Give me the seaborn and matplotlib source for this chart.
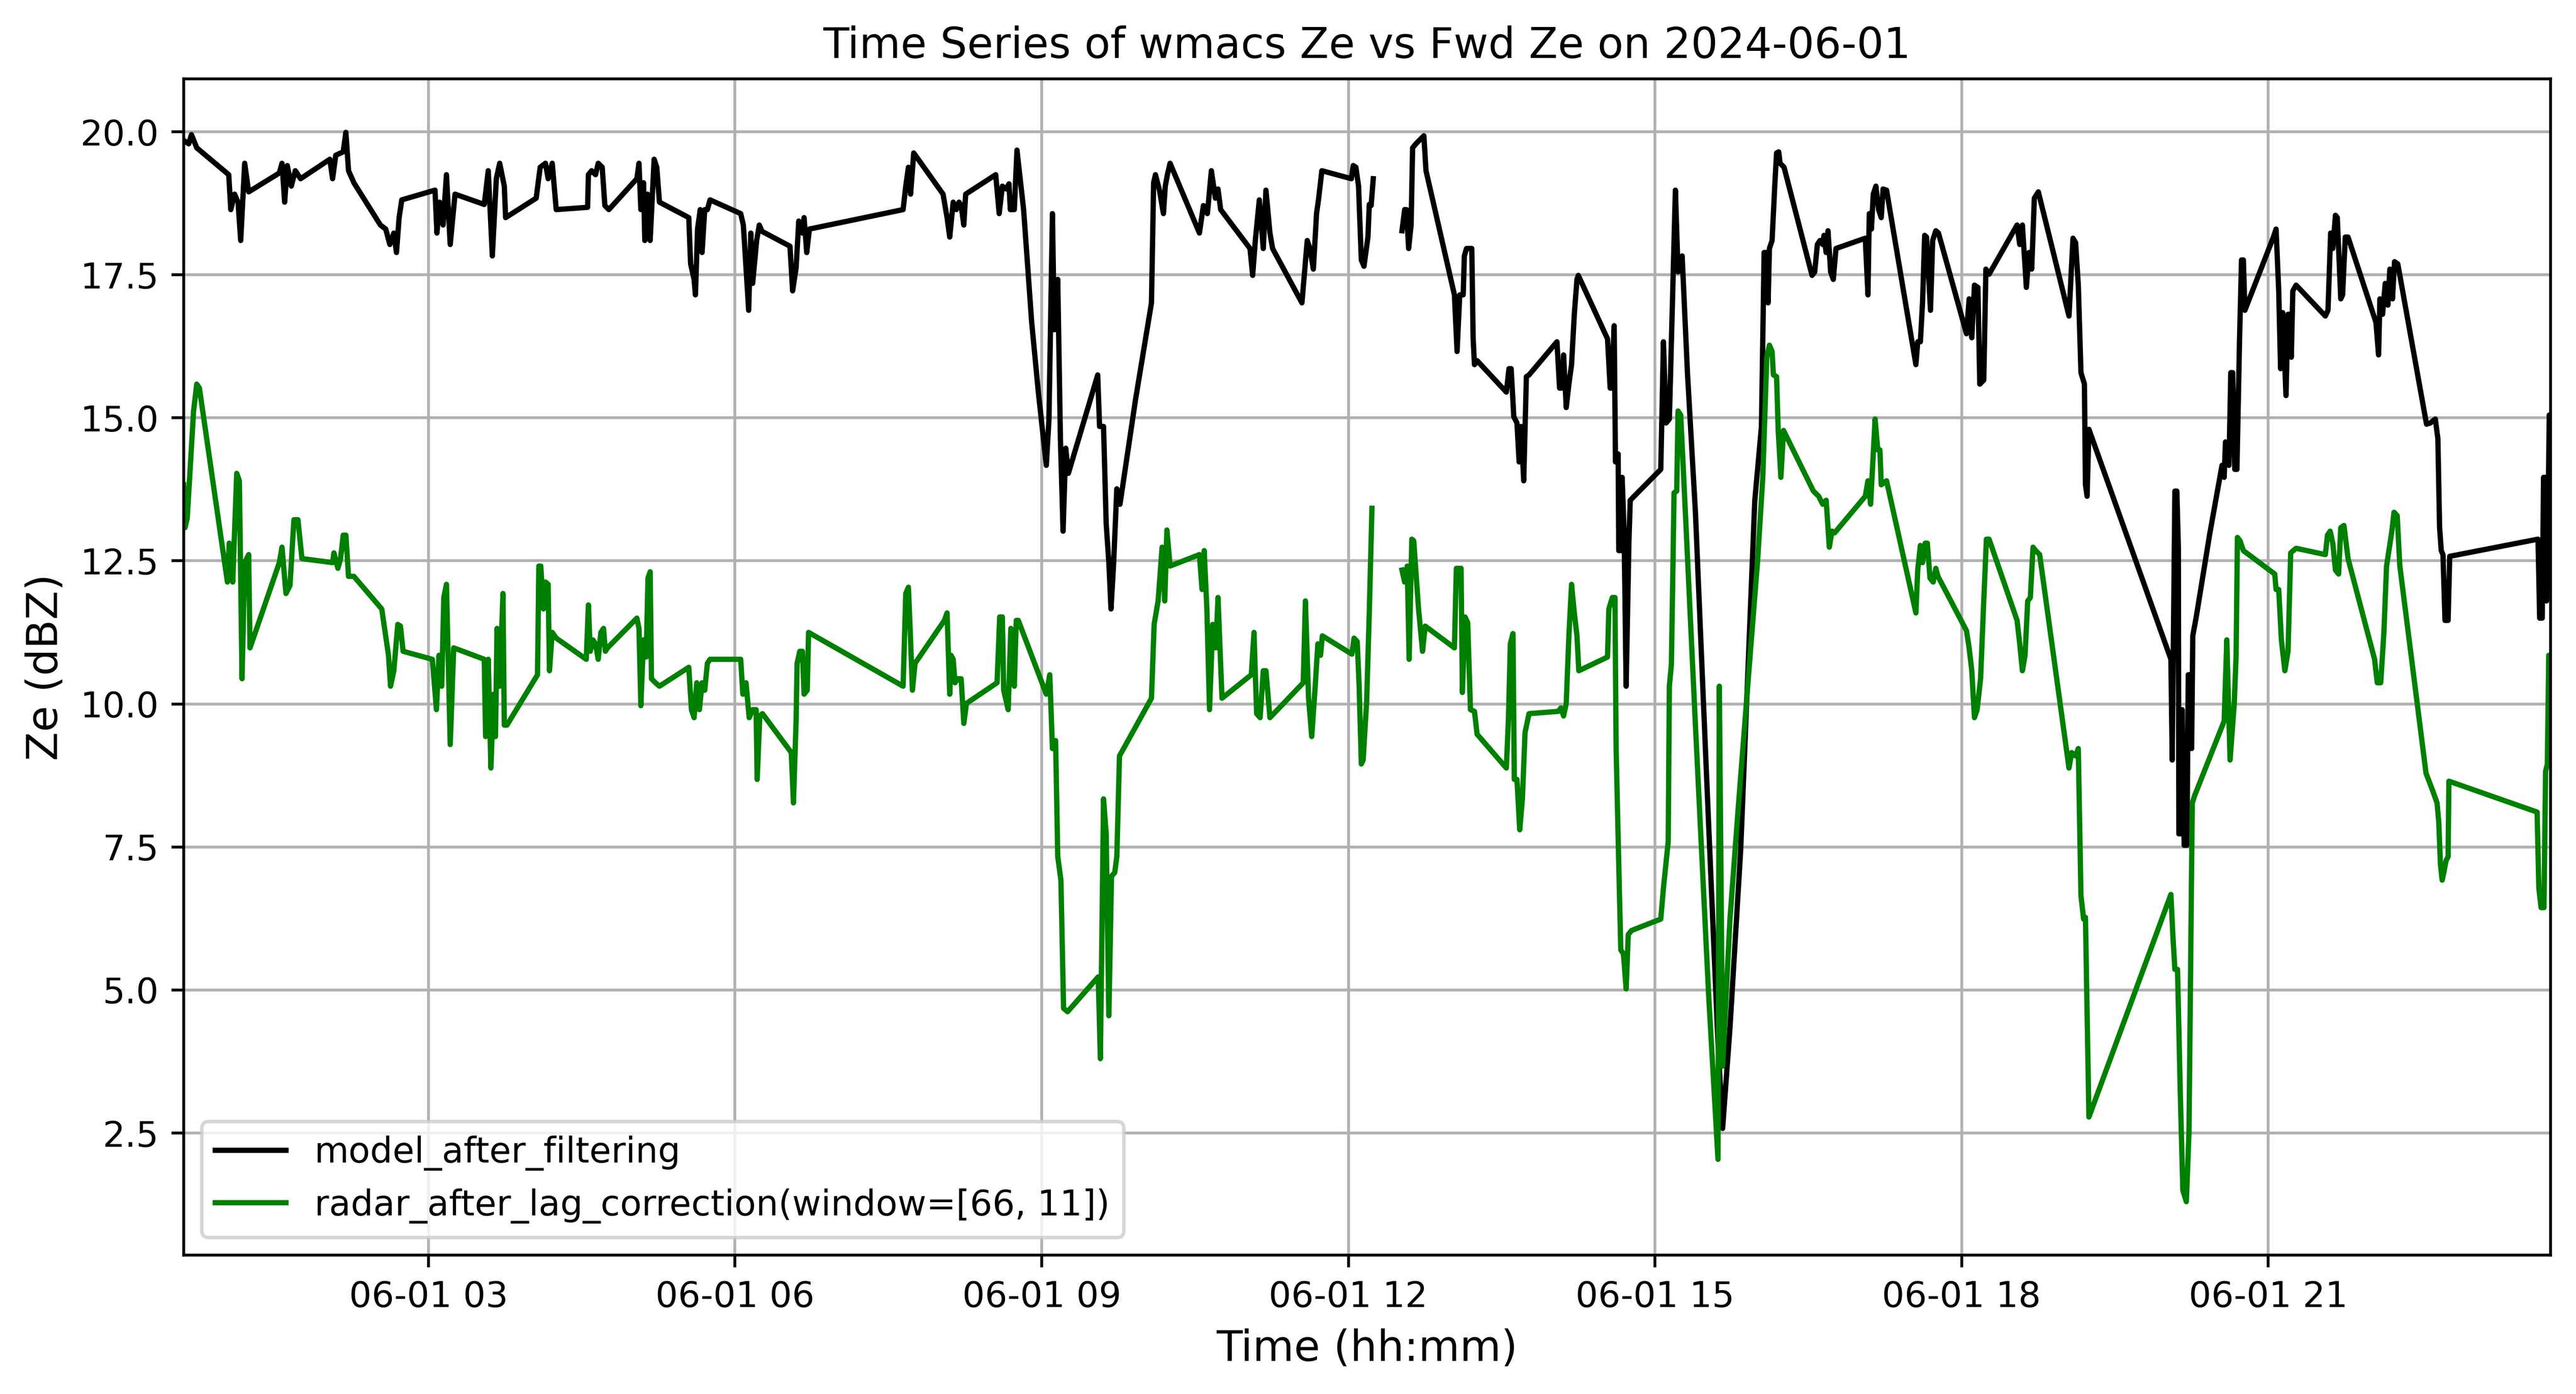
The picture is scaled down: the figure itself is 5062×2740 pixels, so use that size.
import numpy as np
import pandas as pd
import matplotlib
matplotlib.use("Agg")
import matplotlib.pyplot as plt
import matplotlib.dates as mdates
import seaborn as sns

# hours after 2024-06-01 00:00 (dBZ)
model_hours = [
    0.605, 0.655, 0.681, 0.733, 1.046, 1.066, 1.103, 1.137, 1.163, 1.202, 1.241,
    1.541, 1.567, 1.593, 1.619, 1.658, 1.697, 1.749, 2.035, 2.062, 2.093, 2.166,
    2.192, 2.218, 2.270, 2.530, 2.582, 2.622, 2.661, 2.687, 2.713, 2.739, 3.064,
    3.083, 3.109, 3.143, 3.176, 3.213, 3.260, 3.546, 3.585, 3.625, 3.664, 3.697,
    3.742, 3.755, 4.054, 4.093, 4.145, 4.171, 4.211, 4.250, 4.557, 4.565, 4.596,
    4.635, 4.661, 4.700, 4.726, 4.765, 5.039, 5.060, 5.078, 5.104, 5.117, 5.143,
    5.169, 5.208, 5.234, 5.260, 5.547, 5.565, 5.599, 5.612, 5.633, 5.659, 5.677,
    5.703, 5.729, 5.755, 6.055, 6.081, 6.133, 6.154, 6.172, 6.211, 6.237, 6.263,
    6.537, 6.563, 6.597, 6.623, 6.659, 6.675, 6.701, 6.727, 7.644, 7.670, 7.696,
    7.717, 7.748, 8.035, 8.074, 8.100, 8.134, 8.165, 8.191, 8.212, 8.238, 8.256,
    8.550, 8.584, 8.615, 8.654, 8.680, 8.693, 8.732, 8.758, 8.823, 8.902, 8.967,
    9.045, 9.071, 9.105, 9.123, 9.157, 9.183, 9.209, 9.235, 9.261, 9.548, 9.566,
    9.605, 9.631, 9.657, 9.678, 9.704, 9.735, 9.766, 9.918, 10.074, 10.095,
    10.113, 10.152, 10.191, 10.209, 10.230, 10.256, 10.543, 10.582, 10.621,
    10.660, 10.699, 10.725, 10.751, 11.038, 11.064, 11.090, 11.129, 11.168,
    11.194, 11.233, 11.259, 11.546, 11.572, 11.598, 11.624, 11.658, 11.689,
    11.710, 11.741, 12.030, 12.048, 12.074, 12.100, 12.127, 12.153, 12.192,
    12.205, 12.223, 12.244, 12.380, 12.525, 12.551, 12.569, 12.590, 12.614,
    12.629, 12.661, 12.739, 12.760, 13.038, 13.064, 13.090, 13.124, 13.135,
    13.156, 13.208, 13.221, 13.234, 13.260, 13.546, 13.572, 13.593, 13.619,
    13.650, 13.671, 13.690, 13.716, 13.742, 13.768, 14.041, 14.067, 14.093,
    14.106, 14.132, 14.158, 14.184, 14.211, 14.237, 14.250, 14.536, 14.562,
    14.575, 14.601, 14.614, 14.640, 14.646, 14.666, 14.679, 14.698, 14.718,
    14.745, 14.758, 15.057, 15.083, 15.109, 15.141, 15.161, 15.200, 15.226,
    15.266, 15.318, 15.396, 15.500, 15.617, 15.662, 15.734, 15.839, 15.977,
    16.042, 16.068, 16.094, 16.107, 16.120, 16.146, 16.172, 16.190, 16.211,
    16.224, 16.263, 16.537, 16.563, 16.589, 16.615, 16.641, 16.654, 16.675,
    16.693, 16.719, 16.745, 16.771, 17.058, 17.084, 17.097, 17.118, 17.136,
    17.162, 17.188, 17.214, 17.232, 17.266, 17.553, 17.571, 17.597, 17.618,
    17.639, 17.657, 17.696, 17.717, 17.748, 17.774, 18.048, 18.074, 18.100,
    18.126, 18.160, 18.178, 18.217, 18.238, 18.269, 18.543, 18.569, 18.595,
    18.634, 18.660, 18.686, 18.712, 18.751, 19.051, 19.090, 19.116, 19.142,
    19.168, 19.202, 19.212, 19.228, 19.246, 20.048, 20.061, 20.087, 20.106,
    20.121, 20.126, 20.147, 20.158, 20.178, 20.205, 20.218, 20.231, 20.251,
    20.262, 20.296, 20.426, 20.548, 20.569, 20.582, 20.616, 20.634, 20.653,
    20.673, 20.694, 20.720, 20.739, 20.757, 20.772, 21.051, 21.077, 21.103,
    21.121, 21.142, 21.174, 21.194, 21.207, 21.226, 21.241, 21.273, 21.559,
    21.585, 21.611, 21.632, 21.658, 21.676, 21.710, 21.728, 21.754, 21.781,
    22.054, 22.080, 22.093, 22.119, 22.145, 22.171, 22.190, 22.216, 22.236,
    22.268, 22.549, 22.586, 22.635, 22.660, 22.677, 22.693, 22.710, 22.730,
    22.760, 22.776, 23.640, 23.656, 23.681, 23.694, 23.714, 23.723, 23.736,
    23.750, 23.762,
]
model_ze = [
    19.85, 19.79, 19.95, 19.72, 19.25, 18.64, 18.91, 18.77, 18.10, 19.45, 18.95,
    19.28, 19.45, 18.77, 19.41, 19.05, 19.32, 19.18, 19.52, 19.18, 19.59, 19.65,
    19.99, 19.32, 19.11, 18.37, 18.30, 18.03, 18.23, 17.89, 18.50, 18.81, 18.98,
    18.23, 18.77, 18.37, 19.25, 18.03, 18.91, 18.73, 19.32, 17.83, 19.18, 19.45,
    19.05, 18.50, 18.84, 19.38, 19.45, 19.18, 19.45, 18.64, 18.68, 19.25, 19.32,
    19.25, 19.45, 19.38, 18.71, 18.64, 19.18, 19.45, 18.64, 19.11, 18.10, 18.91,
    18.10, 19.52, 19.38, 18.77, 18.50, 17.69, 17.42, 17.15, 18.30, 18.64, 17.89,
    18.64, 18.64, 18.81, 18.57, 18.37, 16.88, 18.23, 17.35, 18.10, 18.37, 18.26,
    18.00, 17.22, 17.62, 18.44, 18.23, 18.50, 17.89, 18.30, 18.64, 19.05, 19.38,
    18.91, 19.63, 18.91, 18.50, 18.16, 18.77, 18.64, 18.77, 18.71, 18.37, 18.91,
    19.25, 18.57, 19.05, 19.00, 19.09, 18.64, 18.64, 19.68, 18.64, 16.67, 15.45,
    14.17, 14.98, 18.57, 16.54, 17.42, 14.64, 13.02, 14.47, 14.03, 15.75, 14.85,
    14.85, 13.15, 12.47, 11.66, 12.47, 13.76, 13.49, 15.32, 17.01, 19.11,
    19.25, 18.98, 18.57, 19.05, 19.25, 19.45, 18.23, 18.71, 18.57,
    19.32, 18.84, 19.00, 18.64, 17.96, 17.49, 18.10, 18.81, 17.96,
    18.98, 18.23, 17.96, 17.01, 17.55, 18.10, 17.96, 17.60, 18.57,
    18.84, 19.32, 19.18, 19.41, 19.38, 19.05, 17.76, 17.65, 18.16,
    18.73, 18.71, 19.18, np.nan, 18.27, 18.64, 18.64, 17.96, 18.37,
    19.72, 19.79, 19.93, 19.32, 17.15, 16.16, 17.15, 17.15, 17.83,
    17.96, 17.96, 16.40, 15.93, 16.00, 15.45, 15.86, 15.86, 15.02,
    14.91, 14.23, 14.85, 13.90, 15.72, 15.75, 16.33, 15.52, 15.52,
    16.10, 15.18, 15.59, 15.93, 16.81, 17.42, 17.49, 16.38, 15.52,
    15.52, 16.61, 14.23, 14.37, 12.68, 12.68, 13.96, 13.02, 10.31,
    12.81, 13.56, 14.10, 16.33, 14.91, 14.98, 16.33, 18.98, 17.55,
    17.83, 15.79, 13.35, 8.95, 4.07, 2.58, 4.34, 7.46, 13.56,
    14.85, 17.89, 17.89, 17.01, 17.96, 18.10, 19.05, 19.63, 19.65,
    19.45, 19.38, 17.49, 17.55, 18.03, 18.10, 18.03, 18.19, 17.89,
    18.27, 17.55, 17.42, 17.96, 18.14, 17.15, 18.57, 18.30, 18.91,
    19.05, 18.64, 18.50, 19.00, 18.98, 15.93, 16.33, 16.33, 17.01,
    18.19, 18.16, 16.88, 18.10, 18.27, 18.23, 16.47, 17.08, 16.40,
    17.32, 17.28, 15.59, 15.66, 17.60, 17.51, 18.37, 18.03, 18.37,
    17.28, 17.89, 17.60, 18.84, 18.95, 16.78, 18.14, 18.06, 17.32,
    15.79, 15.59, 13.83, 13.63, 14.80, 10.78, 9.02, 13.72, 13.72,
    12.74, 7.73, 7.73, 9.90, 7.53, 7.53, 10.51, 10.51, 9.22,
    11.19, 11.52, 12.95, 14.17, 13.96, 14.58, 14.17, 15.79, 15.79,
    14.10, 14.10, 16.40, 17.76, 17.76, 16.88, 18.16, 18.30, 17.22,
    15.86, 16.84, 15.39, 16.81, 16.81, 16.06, 17.22, 17.32, 16.78,
    16.88, 18.23, 17.96, 18.54, 18.50, 17.08, 17.15, 18.16, 18.16,
    16.67, 16.10, 17.08, 16.81, 17.35, 16.97, 17.60, 17.08, 17.73,
    17.69, 14.89, 14.91, 14.98, 14.64, 13.08, 12.68, 12.61, 11.46,
    11.46, 12.58, 12.88, 11.50, 11.50, 13.96, 13.96, 11.80, 12.85,
    15.05, 15.05,
]

radar_hours = [
    0.605, 0.618, 0.640, 0.668, 0.702, 0.733, 0.759, 1.033, 1.051, 1.085, 1.124,
    1.150, 1.176, 1.202, 1.241, 1.254, 1.541, 1.567, 1.606, 1.645, 1.684, 1.723,
    1.762, 2.062, 2.075, 2.114, 2.140, 2.166, 2.192, 2.218, 2.270, 2.543, 2.609,
    2.629, 2.661, 2.700, 2.726, 2.752, 3.038, 3.078, 3.103, 3.130, 3.150, 3.176,
    3.213, 3.247, 3.546, 3.559, 3.585, 3.611, 3.637, 3.656, 3.671, 3.697, 3.729,
    3.742, 3.768, 4.067, 4.080, 4.099, 4.125, 4.145, 4.171, 4.184, 4.211, 4.250,
    4.544, 4.565, 4.583, 4.609, 4.635, 4.661, 4.687, 4.713, 4.731, 4.752, 5.039,
    5.060, 5.078, 5.104, 5.130, 5.148, 5.169, 5.182, 5.221, 5.260, 5.547, 5.573,
    5.599, 5.625, 5.651, 5.677, 5.703, 5.729, 5.755, 6.055, 6.076, 6.107, 6.138,
    6.172, 6.206, 6.216, 6.242, 6.268, 6.550, 6.571, 6.597, 6.607, 6.633, 6.659,
    6.675, 6.706, 6.719, 7.644, 7.670, 7.696, 7.717, 7.735, 7.761, 8.048, 8.074,
    8.100, 8.113, 8.134, 8.152, 8.178, 8.212, 8.238, 8.264, 8.563, 8.589, 8.615,
    8.628, 8.672, 8.698, 8.732, 8.751, 8.771, 9.045, 9.079, 9.105, 9.136, 9.157,
    9.188, 9.214, 9.253, 9.553, 9.574, 9.605, 9.631, 9.657, 9.683, 9.714, 9.735,
    9.761, 10.074, 10.100, 10.139, 10.178, 10.204, 10.225, 10.256, 10.543,
    10.569, 10.590, 10.616, 10.642, 10.673, 10.704, 10.725, 10.764, 11.051,
    11.077, 11.103, 11.137, 11.168, 11.194, 11.233, 11.559, 11.580, 11.611,
    11.642, 11.676, 11.702, 11.728, 11.746, 12.035, 12.056, 12.087, 12.106,
    12.127, 12.145, 12.179, 12.205, 12.231, 12.380, 12.525, 12.551, 12.577,
    12.595, 12.621, 12.640, 12.687, 12.726, 12.752, 13.038, 13.057, 13.103,
    13.116, 13.142, 13.168, 13.195, 13.234, 13.260, 13.546, 13.567, 13.585,
    13.611, 13.624, 13.650, 13.677, 13.703, 13.729, 13.768, 14.054, 14.080,
    14.106, 14.132, 14.158, 14.184, 14.211, 14.237, 14.255, 14.536, 14.549,
    14.583, 14.609, 14.620, 14.653, 14.666, 14.692, 14.718, 14.739, 14.771,
    15.057, 15.083, 15.130, 15.141, 15.161, 15.187, 15.213, 15.226, 15.252,
    15.292, 15.396, 15.526, 15.617, 15.630, 15.662, 15.734, 15.813, 15.925,
    16.003, 16.055, 16.094, 16.120, 16.146, 16.159, 16.190, 16.206, 16.232,
    16.258, 16.550, 16.602, 16.641, 16.675, 16.706, 16.732, 16.758, 17.058,
    17.084, 17.110, 17.136, 17.154, 17.180, 17.201, 17.214, 17.266, 17.553,
    17.571, 17.597, 17.618, 17.644, 17.665, 17.691, 17.722, 17.748, 17.769,
    18.048, 18.074, 18.100, 18.126, 18.152, 18.186, 18.217, 18.243, 18.269,
    18.543, 18.569, 18.595, 18.621, 18.647, 18.673, 18.699, 18.725, 18.764,
    19.051, 19.077, 19.116, 19.142, 19.168, 19.194, 19.212, 19.246, 20.048,
    20.069, 20.087, 20.113, 20.139, 20.165, 20.199, 20.225, 20.257, 20.283,
    20.569, 20.595, 20.627, 20.668, 20.686, 20.699, 20.725, 20.757, 21.064,
    21.077, 21.103, 21.129, 21.163, 21.194, 21.220, 21.246, 21.273, 21.559,
    21.580, 21.606, 21.632, 21.658, 21.689, 21.710, 21.741, 21.781, 22.041,
    22.067, 22.101, 22.132, 22.158, 22.210, 22.231, 22.262, 22.288, 22.544,
    22.610, 22.652, 22.669, 22.685, 22.702, 22.718, 22.740, 22.760, 22.768,
    23.631, 23.648, 23.670, 23.698, 23.714, 23.731, 23.745, 23.762,
]
radar_ze = [
    13.83, 13.08, 13.25, 14.10, 15.12, 15.59, 15.52, 12.13, 12.81, 12.13, 14.03,
    13.90, 10.44, 12.47, 12.61, 10.98, 12.47, 12.74, 11.93, 12.07, 13.22, 13.22,
    12.54, 12.47, 12.64, 12.37, 12.54, 12.95, 12.95, 12.23, 12.23, 11.66, 10.85,
    10.31, 10.58, 11.39, 11.36, 10.92, 10.78, 9.90, 10.85, 10.31, 11.86, 12.09,
    9.29, 10.98, 10.78, 9.43, 10.78, 8.88, 10.17, 9.43, 11.32, 10.31, 11.93,
    9.63, 9.63, 10.51, 12.41, 12.41, 11.66, 12.13, 12.09, 10.58, 11.25, 11.15,
    10.78, 11.73, 10.92, 11.12, 11.05, 10.78, 11.25, 11.32, 10.92, 10.98, 11.50,
    11.32, 9.97, 11.12, 10.82, 12.20, 12.31, 10.44, 10.37, 10.31, 10.64, 9.90,
    9.76, 10.37, 9.90, 10.37, 10.24, 10.71, 10.78, 10.78, 10.17, 10.37, 9.76,
    9.90, 9.90, 8.68, 9.79, 9.83, 9.15, 8.27, 9.70, 10.71, 10.92, 10.92,
    10.17, 10.24, 11.25, 10.31, 11.93, 12.04, 11.12, 10.24, 10.71, 11.46, 11.59,
    10.17, 10.85, 10.78, 10.37, 10.44, 10.44, 9.66, 10.01, 10.37, 11.52, 11.52,
    10.24, 9.90, 11.32, 10.31, 11.46, 11.46, 10.17, 10.51, 9.22, 9.36, 7.33,
    6.92, 4.68, 4.62, 5.23, 3.80, 8.34, 7.73, 4.55, 6.99, 7.05, 7.33,
    9.09, 10.10, 11.39, 11.80, 12.74, 11.80, 13.04, 12.41, 12.61,
    12.00, 12.68, 11.66, 9.90, 11.39, 10.98, 11.86, 10.10, 10.51,
    11.25, 9.83, 9.76, 10.58, 10.58, 9.76, 10.37, 11.80, 10.10,
    9.43, 10.31, 11.05, 10.85, 11.19, 10.87, 11.15, 11.09, 10.31,
    8.95, 9.02, 10.03, 11.59, 13.42, np.nan, 12.34, 12.13, 12.41,
    10.78, 12.88, 12.85, 11.66, 10.92, 11.36, 10.98, 12.37, 12.37,
    10.20, 11.52, 11.42, 9.90, 9.87, 9.47, 8.88, 9.76, 11.05,
    11.23, 8.68, 8.68, 7.80, 8.34, 9.50, 9.83, 9.87, 9.93,
    9.79, 10.01, 11.19, 12.09, 11.59, 11.19, 10.58, 10.82, 11.66,
    11.86, 11.86, 9.22, 6.65, 5.70, 5.63, 5.02, 5.97, 6.04,
    6.24, 6.78, 7.60, 10.31, 10.69, 13.69, 13.72, 15.12, 15.05,
    13.56, 9.63, 4.89, 2.04, 10.31, 3.67, 6.24, 8.14, 10.71,
    12.47, 13.96, 16.06, 16.27, 16.16, 15.75, 15.72, 14.78, 13.96,
    14.78, 13.72, 13.63, 13.49, 13.56, 12.74, 13.02, 12.99, 13.63,
    13.90, 13.49, 14.37, 14.98, 14.44, 14.44, 13.83, 13.90, 11.59,
    12.34, 12.77, 12.47, 12.81, 12.81, 12.20, 12.13, 12.37, 12.23,
    11.28, 10.98, 10.58, 9.76, 9.90, 10.44, 11.80, 12.88, 12.88,
    11.46, 11.05, 10.58, 10.85, 11.80, 11.86, 12.74, 12.68, 12.61,
    8.88, 9.15, 9.09, 9.22, 6.65, 6.24, 6.27, 2.78, 6.67,
    5.90, 5.36, 5.36, 3.26, 1.50, 1.30, 2.51, 8.27, 8.41,
    9.70, 11.12, 9.02, 10.01, 10.85, 12.91, 12.85, 12.68, 12.27,
    12.00, 12.00, 11.12, 10.58, 10.92, 12.64, 12.68, 12.72, 12.61,
    12.95, 13.02, 12.81, 12.34, 12.27, 13.08, 13.12, 12.54, 10.78,
    10.37, 10.37, 11.25, 12.41, 13.02, 13.35, 13.29, 12.41, 8.79,
    8.48, 8.27, 7.93, 7.20, 6.92, 7.05, 7.26, 7.33, 8.65,
    8.11, 6.78, 6.44, 6.44, 8.82, 8.95, 10.85, 10.85,
]

day = pd.Timestamp("2024-06-01")


def make_df(hours, values):
    df = pd.DataFrame({"hours": hours, "ze": values})
    df["time"] = day + pd.to_timedelta(df["hours"], unit="h")
    # a NaN marks a data gap -> separate line pieces
    df["piece"] = df["ze"].isna().cumsum()
    return df.dropna()


df_model = make_df(model_hours, model_ze)
df_radar = make_df(radar_hours, radar_ze)

fig = plt.figure(figsize=(5062 / 500, 2740 / 500), dpi=500)
ax = fig.add_axes([0.0713, 0.0996, 0.9901 - 0.0713, 0.9434 - 0.0996])

series = [
    (df_model, "black", "model_after_filtering"),
    (df_radar, "green", "radar_after_lag_correction(window=[66, 11])"),
]
for df, color, label in series:
    for i, (_, piece) in enumerate(df.groupby("piece")):
        sns.lineplot(data=piece, x="time", y="ze", ax=ax, color=color,
                     estimator=None, sort=False, linewidth=1.5,
                     label=label if i == 0 else None, legend=False)

ax.set_xlim(df_model["time"].min(), df_model["time"].max())
ax.xaxis.set_major_locator(mdates.HourLocator(byhour=range(0, 24, 3)))
ax.xaxis.set_major_formatter(mdates.DateFormatter("%m-%d %H"))

ax.set_title("Time Series of wmacs Ze vs Fwd Ze on 2024-06-01", fontsize=12)
ax.set_xlabel("Time (hh:mm)", fontsize=12)
ax.set_ylabel("Ze (dBZ)", fontsize=12)
ax.grid(True)
ax.legend(loc="lower left", fontsize=10)

fig.savefig("out.png", dpi=500)
